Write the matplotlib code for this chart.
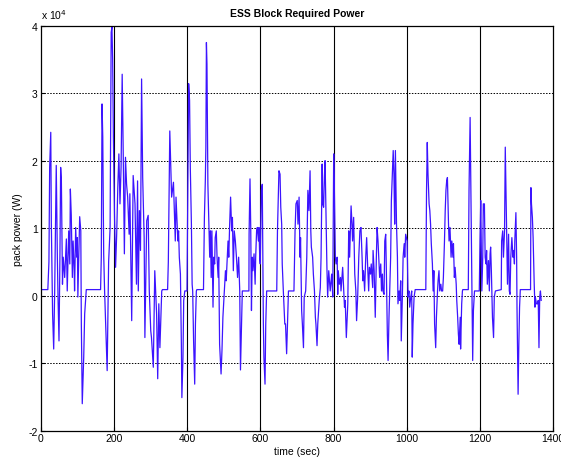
import matplotlib
matplotlib.use("Agg")
import matplotlib.pyplot as plt
import numpy as np

plt.rcParams['font.family'] = ['Liberation Sans', 'DejaVu Sans']
plt.rcParams['axes.unicode_minus'] = False

# time (s) and pack power (x 1e4 W)
time_s = [0, 20, 23, 25, 28, 29.6, 33, 36, 38.7, 43, 46, 48, 50.5, 53, 55, 57, 60, 62, 66, 70.6,
          73, 77, 80, 81.5, 84, 87, 89, 92, 93, 96, 99, 100.6, 102, 107, 110, 111.5, 114, 118, 120.6, 125,
          164, 166, 168, 170, 172.5, 175, 178, 182, 186, 190, 193, 195, 197, 199, 202, 205, 208, 211,
          214, 217, 220, 223, 226, 229, 232, 235, 238, 242, 244, 246, 249, 253, 258, 262, 265, 267,
          270, 273, 276, 279, 283, 285, 290, 294, 297, 301, 303, 308, 312, 317, 320, 323, 326, 331,
          333, 347, 349, 353, 358, 363, 368, 370, 373, 375, 377, 379, 382, 384.5, 386, 389, 391, 394,
          400, 401, 404.5, 407, 409, 412, 414, 415.5, 418, 421, 423, 425.5, 427, 445, 447.5, 450,
          451.5, 453, 454.5, 457, 459, 462, 464, 466, 468, 471, 473, 475.5, 477, 480, 482, 485, 486.5,
          489, 493, 495.5, 498, 502, 505, 507, 512, 514, 516.5, 519, 522, 524, 526.5, 529, 532, 535,
          538, 541, 544, 546, 549, 551, 569, 569.5, 572, 574, 576, 578, 580, 583, 586, 587.5, 590,
          592, 595, 596.5, 598.5, 600, 603, 605.5, 608.5, 610, 613, 615, 617.5, 645, 647, 651, 654,
          656, 658.5, 660, 663, 667, 669, 672, 675, 677, 692, 695, 697.5, 701, 703, 706, 708.5, 710,
          713, 715, 718, 720, 724, 727, 730, 733, 736, 738, 739.5, 743, 745, 748, 750.5, 752, 755,
          757, 761, 764, 766, 769, 770.5, 773, 775, 777, 780, 782, 784, 787, 789, 791, 795, 798,
          800.5, 802, 805, 807, 810, 811.5, 813, 816, 819, 820.5, 823, 825, 828, 830, 832, 835, 839,
          841.5, 844, 848, 850.5, 852, 855, 858, 861, 863, 866, 869, 872, 875, 878, 880, 882, 885,
          888, 890.5, 893, 896, 898, 901, 903, 907, 908, 911, 914, 917, 919, 921.5, 923.5, 926, 929,
          931, 933.5, 935, 938, 940, 942.5, 944, 947, 949, 951.5, 953.5, 956, 958, 961, 963, 965,
          967, 969, 972, 974.5, 976, 979, 981, 983.5, 985, 988, 990, 993, 994.5, 997, 999, 1001,
          1003.5, 1006, 1008, 1011, 1013.5, 1015, 1017, 1020, 1023, 1052, 1054, 1056, 1058, 1061,
          1063, 1065, 1067, 1070, 1072, 1074, 1076, 1079, 1081, 1084, 1085.5, 1088, 1090, 1093, 1095,
          1098, 1100, 1103, 1105, 1107, 1109, 1111, 1114, 1115.5, 1118, 1121, 1123, 1126, 1127.5,
          1130, 1132, 1135, 1136.5, 1139, 1141, 1143, 1146, 1147, 1150, 1152, 1153, 1168, 1170, 1173,
          1175, 1176.5, 1178, 1180, 1182, 1185, 1198, 1200, 1202, 1205, 1207.5, 1209, 1212, 1214,
          1216.5, 1218, 1220, 1223, 1225.5, 1227.5, 1229, 1231, 1234, 1237, 1239, 1242, 1258, 1259,
          1262, 1264, 1267, 1269, 1271, 1273, 1275, 1278, 1280, 1282, 1284, 1287, 1288, 1290, 1292,
          1294, 1295, 1298, 1300, 1301, 1304, 1306, 1308, 1310, 1338, 1339, 1340.5, 1343, 1345, 1348,
          1350, 1351, 1354, 1357, 1359, 1361, 1363, 1365, 1367]

power_e4 = [0.09, 0.09, 0.5, 1.90, 2.42, 1.06, -0.27, -0.79, 0.07, 1.93, 0.57, -0.07, -0.67, 0.57, 1.90, 1.70, 0.17, 0.57, 0.27, 0.84,
            0.07, 0.96, 0.47, 1.58, 1.19, 0.27, 0.81, 0.37, 0.07, 1.01, 0.57, 0.86, -0.02, 1.17, 0.96, -0.42, -1.60, -0.91, -0.27, 0.09,
            0.09, 0.57, 2.84, 2.35, 0.62, 0.07, -0.42, -1.11, 0.5, 1.0, 3.9, 3.98, 3.5, 2.35, 1.2, 0.42, 0.91, 1.6,
            2.10, 1.36, 1.9, 3.28, 2.05, 0.62, 2.05, 1.65, 1.46, 0.91, 1.51, 0.8, -0.37, 1.78, 1.36, 0.17, 1.70, 0.07,
            1.26, 0.67, 3.21, 1.75, 0.86, -0.62, 1.11, 1.19, 0.07, -0.52, -0.62, -1.06, 0.37, -0.27, -1.23, -0.12, -0.77, 0.07,
            0.09, 0.09, 0.5, 2.44, 1.46, 1.68, 0.81, 1.46, 1.06, 0.81, 0.96, 0.57, 0.32, -0.67, -1.51, -0.91, -0.07, 0.07,
            0.07, 0.77, 3.14, 2.89, 1.90, 1.06, 0.17, 0.07, -0.67, -1.31, -0.42, 0.07, 0.09, 0.09, 1.16, 1.70,
            2.2, 3.75, 3.43, 1.65, 1.21, 0.57, 0.96, 0.27, 0.96, -0.17, 0.57, 0.47, 0.86, 0.96, 0.57, 0.27, 0.57,
            -0.72, -1.16, -0.81, -0.32, 0.07, 0.37, 0.22, 0.81, 0.57, 1.06, 1.46, 0.96, 1.16, 0.37, 0.96, 0.81, 0.57,
            0.27, 0.57, 0.07, -1.1, -0.42, 0.07, 0.07, 0.91, 1.73, 1.01, -0.22, 0.57, 0.37, 0.62, 0.17, 0.57, 0.96,
            1.01, 0.81, 1.01, 0.57, 0.47, 1.56, 1.65, -0.42, -0.91, -1.31, -0.42, 0.07, 0.07, 0.96, 1.85, 1.80,
            1.31, 1.06, 0.47, 0.07, -0.42, -0.42, -0.86, -0.32, 0.07, 0.07, 0.96, 1.36, 1.41, 1.06, 1.46, 0.57, 0.86,
            -0.22, -0.42, -0.77, -0.02, 0.07, 0.57, 1.56, 1.26, 1.85, 0.96, 0.72, 0.57, 0.32, 0.07, -0.32, -0.42, -0.74,
            -0.42, -0.07, 0.12, 0.57, 1.95, 1.36, 1.31, 1.75, 2.00, 1.06, 0.42, -0.02, 0.37, 0.22, 0.07, 0.32, -0.02,
            2.10, 1.70, 0.57, 0.47, 0.57, 0.02, 0.37, 0.17, 0.27, 0.07, 0.27, 0.42, 0.07, -0.17, -0.07, -0.62, -0.12,
            0.96, 0.57, 1.33, 1.06, 0.81, 1.16, 0.32, 0.07, -0.37, -0.02, 0.57, 0.96, 1.01, 0.57, 0.22, 0.37, 0.07,
            0.57, 0.86, 0.47, 0.07, 0.42, 0.32, 0.47, 0.12, 0.67, 0.37, -0.32, 0.57, 1.01, 0.81, 0.57, 0.27, 0.47,
            0.07, 0.32, 0.07, 0.02, 0.81, 0.91, 0.47, -0.57, -0.96, -0.32, 0.07, 0.57, 1.41, 1.85, 2.15, 1.80,
            1.06, 2.15, 1.06, 0.57, -0.12, 0.07, -0.07, 0.22, -0.67, -0.02, 0.57, 0.77, 0.57, 0.91, 0.86, 0.81,
            -0.02, 0.07, -0.17, -0.02, 0.07, -0.91, -0.42, -0.02, 0.09, 0.09, 1.56, 2.27, 1.80, 1.36,
            1.26, 1.06, 0.77, 0.47, 0.07, 0.37, -0.42, -0.77, -0.32, 0.07, 0.22, 0.37, 0.07, 0.17, 0.07,
            0.07, 0.27, 0.81, 1.26, 1.56, 1.70, 1.75, 1.06, 0.81, 1.01, 0.57, 0.81, 0.57, 0.77,
            0.27, 0.42, 0.17, -0.07, -0.32, -0.57, -0.72, -0.32, -0.79, -0.12, 0.07, 0.09, 0.09, 1.56, 2.64,
            1.65, 0.79, 0.07, -0.96, -0.22, 0.07, 0.07, 0.81, 1.41, 0.07, 0.57, 1.36, 1.36, 0.57,
            0.47, 0.67, 0.17, 0.52, 0.07, 0.62, 0.72, 0.37, -0.32, -0.62, -0.02, 0.07, 0.09, 0.81,
            0.96, 0.57, 0.96, 2.2, 1.56, 0.86, 0.17, 0.91, 0.07, 0.02, 0.57, 0.86, 0.77, 0.57, 0.67,
            0.47, 0.81, 1.23, 0.57, -0.17, -1.46, -0.72, -0.17, 0.09, 0.09, 1.60, 1.36, 1.16, 0.86, 0.17,
            -0.17, -0.02, -0.12, -0.12, -0.07, -0.77, -0.02, 0.07, -0.07]

x_ticks = [0, 200, 400, 600, 800, 1000, 1200, 1400]
y_ticks = [-2, -1, 0, 1, 2, 3, 4]

fig = plt.figure(figsize=(5.61, 4.64), dpi=100)
ax = fig.add_axes([0.0722, 0.0696, 0.914, 0.873])

t = np.array(time_s)
p = np.array(power_e4) * 1e4
ax.plot(t, p / 1e4, color='#3c14ff', lw=0.9)

ax.set_xlim(0, 1400)
ax.set_ylim(-2, 4)
ax.set_xticks(x_ticks)
ax.set_yticks(y_ticks)
ax.tick_params(direction='in', length=3, labelsize=7.5, pad=2, width=0.8)
for v in y_ticks[1:-1]:
    ax.axhline(v, color='black', lw=0.7, ls=(0, (1.5, 1.5)), zorder=0)
for v in x_ticks[1:-1]:
    ax.axvline(v, color='black', lw=0.8, ls='-', zorder=0)
for s in ax.spines.values():
    s.set_linewidth(0.9)

ax.set_title('ESS Block Required Power', fontsize=7.5, fontweight='bold', pad=7)
ax.set_xlabel('time (sec)', fontsize=7.5, labelpad=2)
ax.set_ylabel('pack power (W)', fontsize=7.5, labelpad=4)
ax.text(0.0, 1.012, r'x 10$^{4}$', transform=ax.transAxes, fontsize=7.5, ha='left', va='bottom')

fig.savefig('out.png', dpi=100)
